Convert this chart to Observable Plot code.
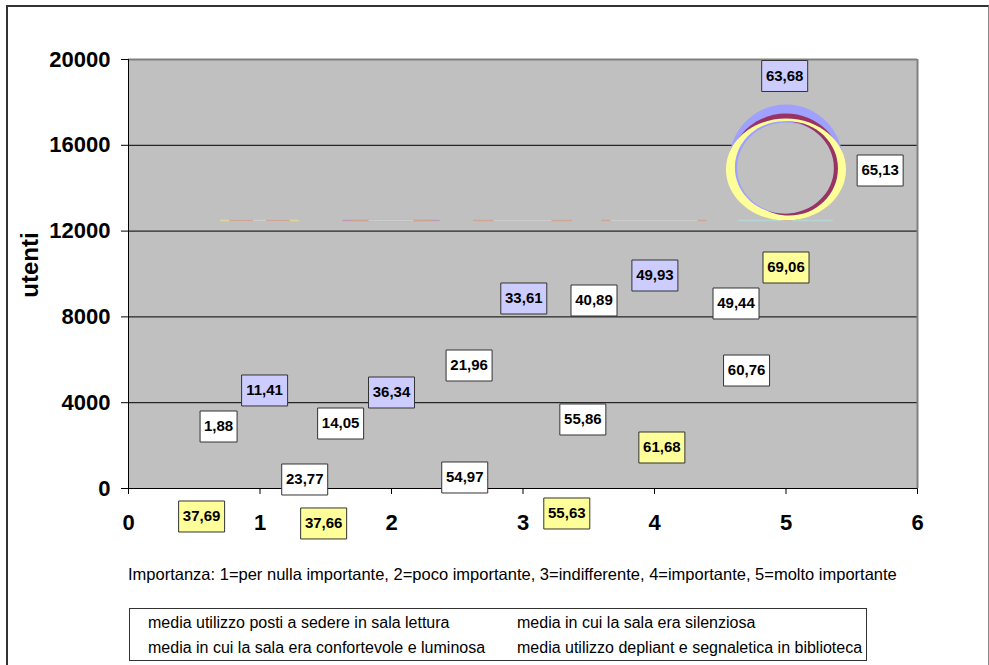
<!DOCTYPE html>
<html><head><meta charset="utf-8">
<script src="https://cdn.jsdelivr.net/npm/d3@7"></script>
<script src="https://cdn.jsdelivr.net/npm/@observablehq/plot@0.6"></script>
<style>
body{margin:0;background:#fff;font-family:"Liberation Sans",Arial,sans-serif;}
#wrap{position:relative;width:989px;height:665px;overflow:hidden;}
#frame{position:absolute;left:6px;top:5px;width:980px;height:720px;border-left:2px solid #333;border-top:2px solid #333;border-right:1px solid #888;}
#chart{position:absolute;left:0;top:0;}
#ylabel{position:absolute;left:30px;top:265px;transform:translate(-50%,-50%) rotate(-90deg);font-size:24px;font-weight:bold;white-space:nowrap;}
#caption{position:absolute;left:128px;top:565px;font-size:16.5px;white-space:nowrap;}
#legend{position:absolute;left:129px;top:608px;width:736px;height:51px;border:1px solid #333;font-size:16px;background:#fff;}
#legend span{position:absolute;white-space:nowrap;line-height:18px;}
#chart svg g[aria-label^="x-axis"] text, #chart svg g[aria-label^="y-axis"] text{font-size:22px;font-weight:bold;fill:#000;}
</style></head>
<body>
<div id="wrap">
  <div id="frame"></div>
  <div id="chart"></div>
  <div id="ylabel"></div>
  <div id="caption"></div>
  <div id="legend"></div>
</div>
<script>
const xTicks = [0, 1, 2, 3, 4, 5, 6];
const yTicks = [0, 4000, 8000, 12000, 16000, 20000];
const yTitle = "utenti";
const captionText = "Importanza: 1=per nulla importante, 2=poco importante, 3=indifferente, 4=importante, 5=molto importante";
const legendNames = [
  "media utilizzo posti a sedere in sala lettura",
  "media in cui la sala era silenziosa",
  "media in cui la sala era confortevole e luminosa",
  "media utilizzo depliant e segnaletica in biblioteca"
];

// data labels (values shown in boxes) and where they sit
const labelText = ["37,69","1,88","11,41","23,77","37,66","14,05","36,34","54,97","21,96","33,61","55,63","40,89","55,86","49,93","61,68","49,44","60,76","63,68","69,06","65,13"];
const labelX    = [0.556, 0.685, 1.035, 1.34, 1.484, 1.613, 2.0, 2.557, 2.59, 3.006, 3.333, 3.54, 3.455, 4.003, 4.056, 4.62, 4.70, 4.99, 5.0, 5.716];
const labelY    = [-1305, 2890, 4570, 420, -1630, 3030, 4475, 513, 5734, 8858, -1165, 8765, 3217, 9930, 1911, 8625, 5500, 19231, 10303, 14825];
const labelKind = ["giallo","bianco","blu","bianco","giallo","bianco","blu","bianco","bianco","blu","giallo","bianco","bianco","blu","giallo","bianco","bianco","blu","giallo","bianco"];

// big bubbles at importance 5
const bubbleSeries = ["blu", "bordeaux", "giallo"];
const bubbleX = [5, 5, 5];
const bubbleY = [15200, 14988, 14872];
const bubbleSize = [58, 53.5, 51];

// collapsed (flat) bubbles
const flatX    = [1, 1, 1, 2, 2, 2, 3, 3, 4, 4, 5];
const flatY    = [12500, 12500, 12500, 12500, 12500, 12500, 12500, 12500, 12500, 12500, 12500];
const flatHalf = [0.30, 0.23, 0.05, 0.37, 0.30, 0.17, 0.375, 0.22, 0.40, 0.33, 0.36];
const flatTone = ["giallo","salmone","grigio","rosa","salmone","grigio","salmone","grigio","salmone","grigio","ciano"];

const boxFill = {bianco: "#ffffff", blu: "#ccccff", giallo: "#ffff99"};
const ringColor = {blu: "#a0a0ff", bordeaux: "#993366", giallo: "#ffff99"};
const ringAspect = {blu: 0.983, bordeaux: 1.047, giallo: 1.176};
const flatColor = {giallo: "#dcd69a", salmone: "#d0a592", grigio: "#cdcdcd", rosa: "#c597b5", ciano: "#b6d4d4"};
const plotBg = "#c0c0c0";

const labels = labelText.map((t, i) => ({text: t, x: labelX[i], y: labelY[i], kind: labelKind[i]}));
const bubbles = bubbleSeries.map((s, i) => ({series: s, x: bubbleX[i], y: bubbleY[i], size: bubbleSize[i]}));
const flats = flatX.map((x, i) => ({x, y: flatY[i], half: flatHalf[i], tone: flatTone[i]}));
const of = s => bubbles.filter(d => d.series === s);

function boxSymbol(w, h) {
  return {draw(ctx) { ctx.rect(-w / 2, -h / 2, w, h); }};
}
function ellipseSymbol(aspect) {
  return {draw(ctx, size) {
    const ry = Math.sqrt(size / Math.PI), rx = ry * aspect, k = 0.5522847;
    ctx.moveTo(rx, 0);
    ctx.bezierCurveTo(rx, ry * k, rx * k, ry, 0, ry);
    ctx.bezierCurveTo(-rx * k, ry, -rx, ry * k, -rx, 0);
    ctx.bezierCurveTo(-rx, -ry * k, -rx * k, -ry, 0, -ry);
    ctx.bezierCurveTo(rx * k, -ry, rx, -ry * k, rx, 0);
    ctx.closePath();
  }};
}

// 3D-looking bubble shading: outer discs, inner tints, hollow centre
const bubbleMarks = [
  ...bubbleSeries.map(s => Plot.dot(of(s), {x: "x", y: "y", r: "size", symbol: ellipseSymbol(ringAspect[s]), fill: ringColor[s], stroke: "none"})),
  Plot.dot(of("bordeaux"), {x: "x", y: "y", r: d => d.size * 0.88, symbol: ellipseSymbol(1.04), fill: ringColor.bordeaux, dx: 3, dy: 1.5}),
  Plot.dot(of("blu"), {x: "x", y: "y", r: d => d.size * 0.795, symbol: ellipseSymbol(1.065), fill: ringColor.blu, dx: -2, dy: 5}),
  Plot.dot(of("giallo"), {x: "x", y: "y", r: d => d.size * 0.89, symbol: ellipseSymbol(1.066), fill: plotBg, dx: -0.5, dy: -1.5})
];

const chart = Plot.plot({
  width: 989, height: 560,
  marginLeft: 128, marginRight: 72, marginTop: 59, marginBottom: 72,
  style: {fontFamily: "'Liberation Sans', Arial, sans-serif", background: "transparent", color: "#000"},
  x: {domain: [0, 6], ticks: xTicks, tickSize: 6, tickPadding: 20, label: null, tickFormat: d => String(d)},
  y: {domain: [0, 20000], ticks: yTicks, tickSize: 7, tickPadding: 11, label: null, tickFormat: d => String(d)},
  r: {type: "linear", domain: [0, 60], range: [0, 60]},
  color: {type: "identity"},
  marks: [
    Plot.frame({fill: plotBg, stroke: "none"}),
    Plot.ruleY(yTicks.filter(v => v > 0 && v < 20000), {stroke: "#000", strokeWidth: 1}),
    Plot.ruleY([20000], {stroke: "#808080", strokeWidth: 2}),
    Plot.ruleX([6], {stroke: "#808080", strokeWidth: 2}),
    Plot.ruleY(flats, {y: "y", x1: d => d.x - d.half, x2: d => d.x + d.half, stroke: d => flatColor[d.tone], strokeWidth: 1.5}),
    ...bubbleMarks,
    Plot.ruleX([0], {stroke: "#000", strokeWidth: 1}),
    Plot.ruleY([0], {stroke: "#000", strokeWidth: 1}),
    Plot.dot(labels.filter(d => d.text.length > 4), {x: "x", y: "y", r: 10, symbol: boxSymbol(46, 31), fill: d => boxFill[d.kind], stroke: "#333", strokeWidth: 1}),
    Plot.dot(labels.filter(d => d.text.length <= 4), {x: "x", y: "y", r: 10, symbol: boxSymbol(37, 31), fill: d => boxFill[d.kind], stroke: "#333", strokeWidth: 1}),
    Plot.text(labels, {x: "x", y: "y", text: "text", fontSize: 15, fontWeight: "bold", fill: "#000"})
  ]
});
document.getElementById("chart").appendChild(chart);
document.getElementById("ylabel").textContent = yTitle;
document.getElementById("caption").textContent = captionText;
const leg = document.getElementById("legend");
const legPos = [[18, 5], [387, 5], [18, 30], [387, 30]];
legendNames.forEach((n, i) => {
  const s = document.createElement("span");
  s.textContent = n;
  s.style.left = legPos[i][0] + "px";
  s.style.top = legPos[i][1] + "px";
  leg.appendChild(s);
});
</script>
</body></html>
